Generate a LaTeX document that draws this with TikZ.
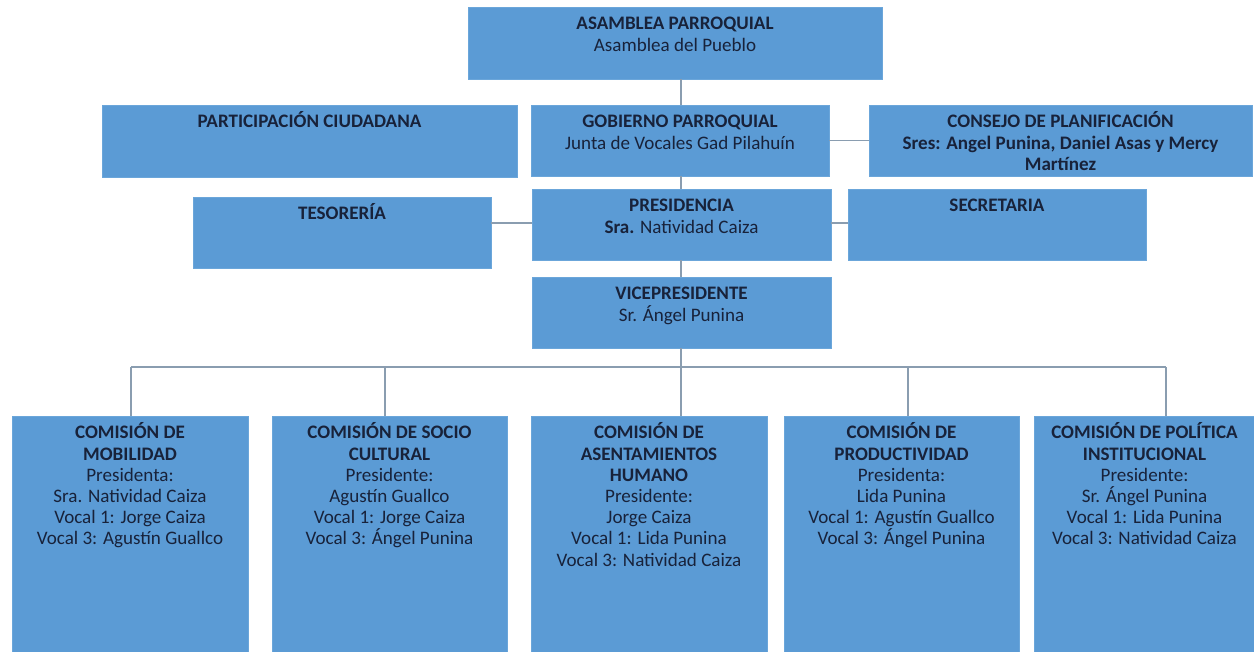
\documentclass[tikz,border=0pt]{standalone}
\usepackage{fontspec}
\setmainfont{Carlito}
\definecolor{boxblue}{HTML}{5B9BD5}
\definecolor{boxedge}{HTML}{6BA6DA}
\definecolor{txtnavy}{RGB}{24,34,58}
\definecolor{linegray}{HTML}{8A9DB0}
\tikzset{
  boxst/.style={fill=boxblue, draw=boxedge, line width=0.5pt, inner sep=0pt, outer sep=0pt, anchor=north west},
  txt/.style={align=center, text=txtnavy, inner sep=0pt, anchor=north, font=\fontsize{14.3}{15.9}\selectfont},
  conn/.style={draw=linegray, line width=0.9pt}
}
\newcommand\obox[6]{%
  \node[boxst, minimum width={(#4-#2)*0.75pt}, minimum height={(#5-#3)*0.75pt}] (#1) at (#2,#3) {};
  \node[txt] (#1t) at ([yshift=-3.9pt]#1.north) {\rule{0pt}{13pt}#6};
}
\begin{document}
\begin{tikzpicture}[x=0.75pt, y=-0.75pt]
\useasboundingbox (0,0) rectangle (1254,651);
\fill[white] (0,0) rectangle (1254,651);
% boxes
\obox{asam}{468}{7}{882}{79}{\textbf{ASAMBLEA PARROQUIAL}\\Asamblea del Pueblo}
\obox{part}{102}{105}{517}{177}{\textbf{PARTICIPACIÓN CIUDADANA}}
\obox{gob}{531}{105}{829}{176}{\textbf{GOBIERNO PARROQUIAL}\\Junta de Vocales Gad Pilahuín}
\obox{cons}{869}{105}{1252}{176}{\textbf{CONSEJO DE PLANIFICACIÓN}\\\textbf{Sres: Angel Punina, Daniel Asas y Mercy}\\\textbf{Martínez}}
\obox{tes}{193}{197}{491}{268}{\textbf{TESORERÍA}}
\obox{pres}{532}{189}{831}{260}{\textbf{PRESIDENCIA}\\\textbf{Sra.} Natividad Caiza}
\obox{sec}{848}{189}{1146}{260}{\textbf{SECRETARIA}}
\obox{vice}{532}{277}{831}{348}{\textbf{VICEPRESIDENTE}\\Sr. Ángel Punina}
\obox{c1}{12}{416}{248}{652}{\textbf{COMISIÓN DE}\\\textbf{MOBILIDAD}\\Presidenta:\\Sra. Natividad Caiza\\Vocal 1: Jorge Caiza\\Vocal 3: Agustín Guallco}
\obox{c2}{272}{416}{507}{652}{\textbf{COMISIÓN DE SOCIO}\\\textbf{CULTURAL}\\Presidente:\\Agustín Guallco\\Vocal 1: Jorge Caiza\\Vocal 3: Ángel Punina}
\obox{c3}{531}{416}{767}{652}{\textbf{COMISIÓN DE}\\\textbf{ASENTAMIENTOS}\\\textbf{HUMANO}\\Presidente:\\Jorge Caiza\\Vocal 1: Lida Punina\\Vocal 3: Natividad Caiza}
\obox{c4}{784}{416}{1019}{652}{\textbf{COMISIÓN DE}\\\textbf{PRODUCTIVIDAD}\\Presidenta:\\Lida Punina\\Vocal 1: Agustín Guallco\\Vocal 3: Ángel Punina}
\obox{c5}{1034}{416}{1255}{652}{\textbf{COMISIÓN DE POLÍTICA}\\\textbf{INSTITUCIONAL}\\Presidente:\\Sr. Ángel Punina\\Vocal 1: Lida Punina\\Vocal 3: Natividad Caiza}
% connectors
\coordinate (bus) at (681,367);
\draw[conn] (asam.south -| 681,0) -- (gob.north -| 681,0);
\draw[conn] (gob.east) -- (gob.east -| cons.west);
\draw[conn] (gob.south -| 681,0) -- (pres.north -| 681,0);
\draw[conn] (tes.east |- 0,223) -- (pres.west |- 0,223);
\draw[conn] (pres.east |- 0,223) -- (sec.west |- 0,223);
\draw[conn] (pres.south -| 681,0) -- (vice.north -| 681,0);
\draw[conn] (vice.south -| 681,0) -- (bus);
\draw[conn] (131,367) -- (1166,367);
\draw[conn] (131,367) -- (c1.north -| 131,0);
\draw[conn] (385,367) -- (c2.north -| 385,0);
\draw[conn] (bus) -- (c3.north -| 681,0);
\draw[conn] (908,367) -- (c4.north -| 908,0);
\draw[conn] (1166,367) -- (c5.north -| 1166,0);
\end{tikzpicture}
\end{document}
